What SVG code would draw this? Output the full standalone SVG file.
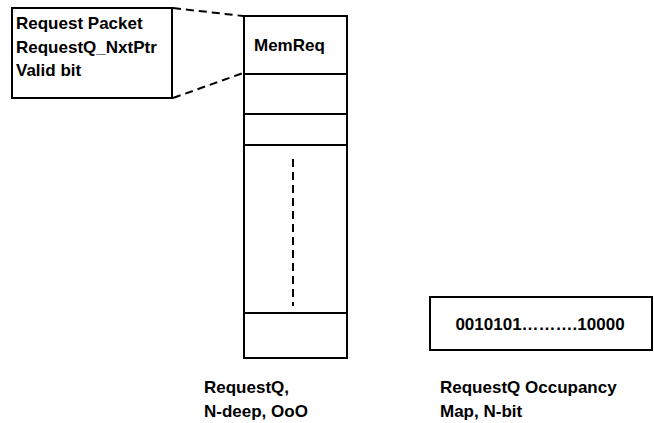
<svg xmlns="http://www.w3.org/2000/svg" width="654" height="423" viewBox="0 0 654 423">
<style>
.t{font-family:"Liberation Sans",Arial,sans-serif;font-weight:bold;font-size:17px;fill:#000}
.b{fill:#fff;stroke:#000;stroke-width:2}
.d{fill:none;stroke:#000;stroke-width:2;stroke-dasharray:8,5}
</style>
<rect width="654" height="423" fill="#fff"/>
<g id="connectors">
<line class="d" x1="173" y1="8" x2="243" y2="16"/>
<line class="d" x1="173" y1="98" x2="243" y2="73"/>
</g>
<g id="packet">
<rect class="b" x="12" y="8" width="160" height="90"/>
<text class="t" x="16" y="29">Request Packet</text>
<text class="t" x="16" y="53">RequestQ_NxtPtr</text>
<text class="t" x="16" y="76">Valid bit</text>
</g>
<g id="requestq">
<rect class="b" x="244" y="16" width="103" height="342"/>
<line stroke="#000" stroke-width="2" x1="244" y1="74" x2="347" y2="74"/>
<line stroke="#000" stroke-width="2" x1="244" y1="114" x2="347" y2="114"/>
<line stroke="#000" stroke-width="2" x1="244" y1="145" x2="347" y2="145"/>
<line stroke="#000" stroke-width="2" x1="244" y1="313" x2="347" y2="313"/>
<line class="d" x1="293" y1="159" x2="293" y2="306"/>
<text class="t" x="254" y="51">MemReq</text>
<text class="t" x="204" y="393">RequestQ,</text>
<text class="t" x="204" y="417">N-deep, OoO</text>
</g>
<g id="occupancy">
<rect class="b" x="430" y="297" width="222" height="53"/>
<text class="t" x="540" y="330" text-anchor="middle">0010101……….10000</text>
<text class="t" x="440" y="393">RequestQ Occupancy</text>
<text class="t" x="440" y="417">Map, N-bit</text>
</g>
</svg>
